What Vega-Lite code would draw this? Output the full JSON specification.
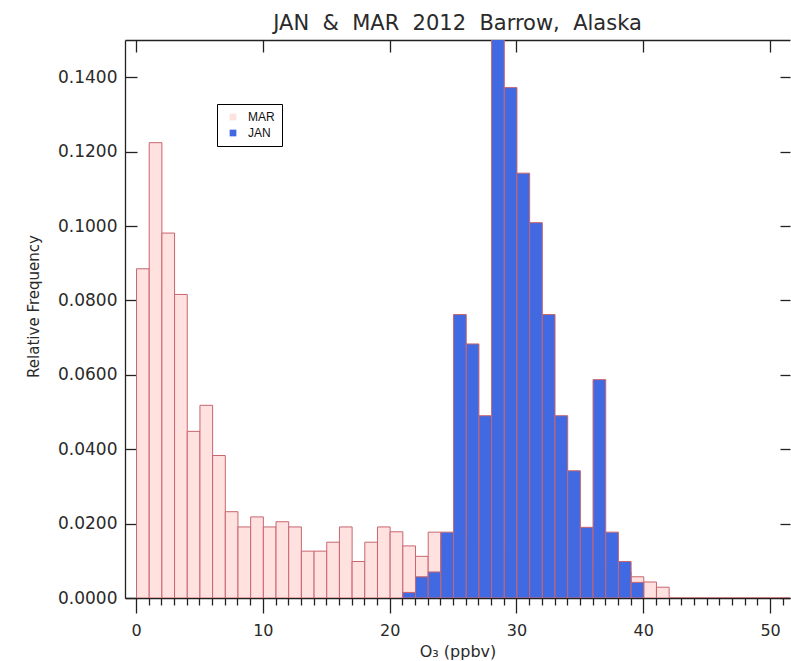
{
  "$schema": "https://vega.github.io/schema/vega-lite/v6.json",
  "width": 665,
  "height": 558,
  "autosize": {"type": "none"},
  "padding": {"left": 125, "top": 40, "right": 1, "bottom": 63},
  "background": "white",
  "title": {
    "text": "JAN\u00a0 &\u00a0 MAR\u00a0 2012\u00a0 Barrow,\u00a0 Alaska",
    "fontSize": 21,
    "font": "DejaVu Sans",
    "fontWeight": "normal",
    "color": "#2a2a2a",
    "anchor": "middle",
    "frame": "group",
    "baseline": "alphabetic",
    "offset": 10,
    "dy": 22
  },
  "config": {
    "view": {"stroke": null},
    "axis": {
      "grid": false,
      "domainColor": "#222",
      "tickColor": "#222",
      "labelColor": "#2a2a2a",
      "titleColor": "#2a2a2a",
      "labelFont": "DejaVu Sans",
      "titleFont": "DejaVu Sans",
      "titleFontWeight": "normal",
      "domainWidth": 1.3,
      "tickWidth": 1.3
    }
  },
  "datasets": {
    "hist": [
      {"month": "MAR", "bin_start": 0, "bin_end": 1, "freq": 0.0885},
      {"month": "MAR", "bin_start": 1, "bin_end": 2, "freq": 0.1224},
      {"month": "MAR", "bin_start": 2, "bin_end": 3, "freq": 0.0981},
      {"month": "MAR", "bin_start": 3, "bin_end": 4, "freq": 0.0816},
      {"month": "MAR", "bin_start": 4, "bin_end": 5, "freq": 0.0448},
      {"month": "MAR", "bin_start": 5, "bin_end": 6, "freq": 0.0518},
      {"month": "MAR", "bin_start": 6, "bin_end": 7, "freq": 0.0383},
      {"month": "MAR", "bin_start": 7, "bin_end": 8, "freq": 0.0232},
      {"month": "MAR", "bin_start": 8, "bin_end": 9, "freq": 0.0191},
      {"month": "MAR", "bin_start": 9, "bin_end": 10, "freq": 0.0218},
      {"month": "MAR", "bin_start": 10, "bin_end": 11, "freq": 0.0191},
      {"month": "MAR", "bin_start": 11, "bin_end": 12, "freq": 0.0205},
      {"month": "MAR", "bin_start": 12, "bin_end": 13, "freq": 0.0191},
      {"month": "MAR", "bin_start": 13, "bin_end": 14, "freq": 0.0126},
      {"month": "MAR", "bin_start": 14, "bin_end": 15, "freq": 0.0126},
      {"month": "MAR", "bin_start": 15, "bin_end": 16, "freq": 0.0150},
      {"month": "MAR", "bin_start": 16, "bin_end": 17, "freq": 0.0191},
      {"month": "MAR", "bin_start": 17, "bin_end": 18, "freq": 0.0098},
      {"month": "MAR", "bin_start": 18, "bin_end": 19, "freq": 0.0150},
      {"month": "MAR", "bin_start": 19, "bin_end": 20, "freq": 0.0191},
      {"month": "MAR", "bin_start": 20, "bin_end": 21, "freq": 0.0178},
      {"month": "MAR", "bin_start": 21, "bin_end": 22, "freq": 0.0140},
      {"month": "MAR", "bin_start": 22, "bin_end": 23, "freq": 0.0112},
      {"month": "MAR", "bin_start": 23, "bin_end": 24, "freq": 0.0177},
      {"month": "MAR", "bin_start": 24, "bin_end": 25, "freq": 0.016},
      {"month": "MAR", "bin_start": 25, "bin_end": 26, "freq": 0.015},
      {"month": "MAR", "bin_start": 26, "bin_end": 27, "freq": 0.014},
      {"month": "MAR", "bin_start": 27, "bin_end": 28, "freq": 0.014},
      {"month": "MAR", "bin_start": 28, "bin_end": 29, "freq": 0.013},
      {"month": "MAR", "bin_start": 29, "bin_end": 30, "freq": 0.013},
      {"month": "MAR", "bin_start": 30, "bin_end": 31, "freq": 0.013},
      {"month": "MAR", "bin_start": 31, "bin_end": 32, "freq": 0.012},
      {"month": "MAR", "bin_start": 32, "bin_end": 33, "freq": 0.012},
      {"month": "MAR", "bin_start": 33, "bin_end": 34, "freq": 0.011},
      {"month": "MAR", "bin_start": 34, "bin_end": 35, "freq": 0.011},
      {"month": "MAR", "bin_start": 35, "bin_end": 36, "freq": 0.010},
      {"month": "MAR", "bin_start": 36, "bin_end": 37, "freq": 0.009},
      {"month": "MAR", "bin_start": 37, "bin_end": 38, "freq": 0.008},
      {"month": "MAR", "bin_start": 38, "bin_end": 39, "freq": 0.007},
      {"month": "MAR", "bin_start": 39, "bin_end": 40, "freq": 0.0057},
      {"month": "MAR", "bin_start": 40, "bin_end": 41, "freq": 0.0043},
      {"month": "MAR", "bin_start": 41, "bin_end": 42, "freq": 0.0029},
      {"month": "MAR", "bin_start": 42, "bin_end": 43, "freq": 0},
      {"month": "MAR", "bin_start": 43, "bin_end": 44, "freq": 0},
      {"month": "MAR", "bin_start": 44, "bin_end": 45, "freq": 0},
      {"month": "MAR", "bin_start": 45, "bin_end": 46, "freq": 0},
      {"month": "MAR", "bin_start": 46, "bin_end": 47, "freq": 0},
      {"month": "MAR", "bin_start": 47, "bin_end": 48, "freq": 0},
      {"month": "MAR", "bin_start": 48, "bin_end": 49, "freq": 0},
      {"month": "MAR", "bin_start": 49, "bin_end": 50, "freq": 0},
      {"month": "MAR", "bin_start": 50, "bin_end": 51, "freq": 0},
      {"month": "MAR", "bin_start": 51, "bin_end": 52, "freq": 0},
      {"month": "JAN", "bin_start": 21, "bin_end": 22, "freq": 0.0015},
      {"month": "JAN", "bin_start": 22, "bin_end": 23, "freq": 0.0057},
      {"month": "JAN", "bin_start": 23, "bin_end": 24, "freq": 0.0070},
      {"month": "JAN", "bin_start": 24, "bin_end": 25, "freq": 0.0177},
      {"month": "JAN", "bin_start": 25, "bin_end": 26, "freq": 0.0762},
      {"month": "JAN", "bin_start": 26, "bin_end": 27, "freq": 0.0683},
      {"month": "JAN", "bin_start": 27, "bin_end": 28, "freq": 0.0490},
      {"month": "JAN", "bin_start": 28, "bin_end": 29, "freq": 0.1535},
      {"month": "JAN", "bin_start": 29, "bin_end": 30, "freq": 0.1372},
      {"month": "JAN", "bin_start": 30, "bin_end": 31, "freq": 0.1142},
      {"month": "JAN", "bin_start": 31, "bin_end": 32, "freq": 0.1009},
      {"month": "JAN", "bin_start": 32, "bin_end": 33, "freq": 0.0762},
      {"month": "JAN", "bin_start": 33, "bin_end": 34, "freq": 0.0490},
      {"month": "JAN", "bin_start": 34, "bin_end": 35, "freq": 0.0342},
      {"month": "JAN", "bin_start": 35, "bin_end": 36, "freq": 0.0190},
      {"month": "JAN", "bin_start": 36, "bin_end": 37, "freq": 0.0587},
      {"month": "JAN", "bin_start": 37, "bin_end": 38, "freq": 0.0177},
      {"month": "JAN", "bin_start": 38, "bin_end": 39, "freq": 0.0098},
      {"month": "JAN", "bin_start": 39, "bin_end": 40, "freq": 0.0042}
    ]
  },
  "data": {"name": "hist"},
  "layer": [
    {
      "transform": [{"filter": "datum.month === 'MAR'"}],
      "mark": {"type": "bar", "stroke": "#c8656e", "strokeWidth": 1, "binSpacing": 0, "clip": true},
      "encoding": {
        "x": {
          "field": "bin_start",
          "bin": "binned",
          "type": "quantitative",
          "scale": {"domain": [-0.87, 51.57], "nice": false, "zero": false},
          "axis": {
            "orient": "bottom",
            "values": [0,1,2,3,4,5,6,7,8,9,10,11,12,13,14,15,16,17,18,19,20,21,22,23,24,25,26,27,28,29,30,31,32,33,34,35,36,37,38,39,40,41,42,43,44,45,46,47,48,49,50,51],
            "tickSize": {"condition": {"test": "datum.value % 10 === 0", "value": 15}, "value": 7},
            "labelExpr": "datum.value % 10 === 0 ? datum.label : ''",
            "format": "d",
            "labelOverlap": false,
            "labelFlush": false,
            "labelBound": false,
            "labelPadding": 9,
            "labelFontSize": 16,
            "title": "O₃ (ppbv)",
            "titleFontSize": 16,
            "titlePadding": 5
          }
        },
        "x2": {"field": "bin_end"},
        "y": {
          "field": "freq",
          "type": "quantitative",
          "stack": null,
          "scale": {"domain": [0, 0.15], "nice": false},
          "axis": {
            "orient": "left",
            "values": [0, 0.02, 0.04, 0.06, 0.08, 0.1, 0.12, 0.14],
            "format": ".4f",
            "tickSize": -12,
            "labelPadding": 20,
            "labelFontSize": 17,
            "title": "Relative Frequency",
            "titleFontSize": 15,
            "titlePadding": 16,
            "titleY": 266
          }
        },
        "color": {
          "field": "month",
          "type": "nominal",
          "scale": {"domain": ["MAR", "JAN"], "range": ["#ffe1e0", "#4169e1"]},
          "legend": {
            "title": null,
            "orient": "none",
            "legendX": 92,
            "legendY": 64,
            "padding": 7,
            "strokeColor": "#000",
            "fillColor": "#fff",
            "symbolType": "square",
            "symbolSize": 45,
            "symbolStrokeWidth": 0,
            "symbolOffset": 3,
            "labelOffset": 9,
            "labelFont": "Liberation Sans",
            "labelFontSize": 12,
            "labelColor": "#111",
            "rowPadding": 4
          }
        }
      }
    },
    {
      "transform": [{"filter": "datum.month === 'JAN'"}],
      "mark": {"type": "bar", "stroke": "#c8656e", "strokeWidth": 1, "binSpacing": 0, "clip": true},
      "encoding": {
        "x": {
          "field": "bin_start",
          "bin": "binned",
          "type": "quantitative",
          "scale": {"domain": [-0.87, 51.57], "nice": false, "zero": false},
          "axis": {
            "orient": "top",
            "values": [0, 10, 20, 30, 40, 50],
            "tickSize": -12,
            "labels": false,
            "title": null
          }
        },
        "x2": {"field": "bin_end"},
        "y": {
          "field": "freq",
          "type": "quantitative",
          "stack": null,
          "scale": {"domain": [0, 0.15], "nice": false},
          "axis": {
            "orient": "right",
            "values": [0, 0.02, 0.04, 0.06, 0.08, 0.1, 0.12, 0.14],
            "tickSize": -10,
            "labels": false,
            "domain": false,
            "title": null
          }
        },
        "color": {"field": "month", "type": "nominal"}
      }
    }
  ],
  "resolve": {"axis": {"x": "independent", "y": "independent"}}
}
